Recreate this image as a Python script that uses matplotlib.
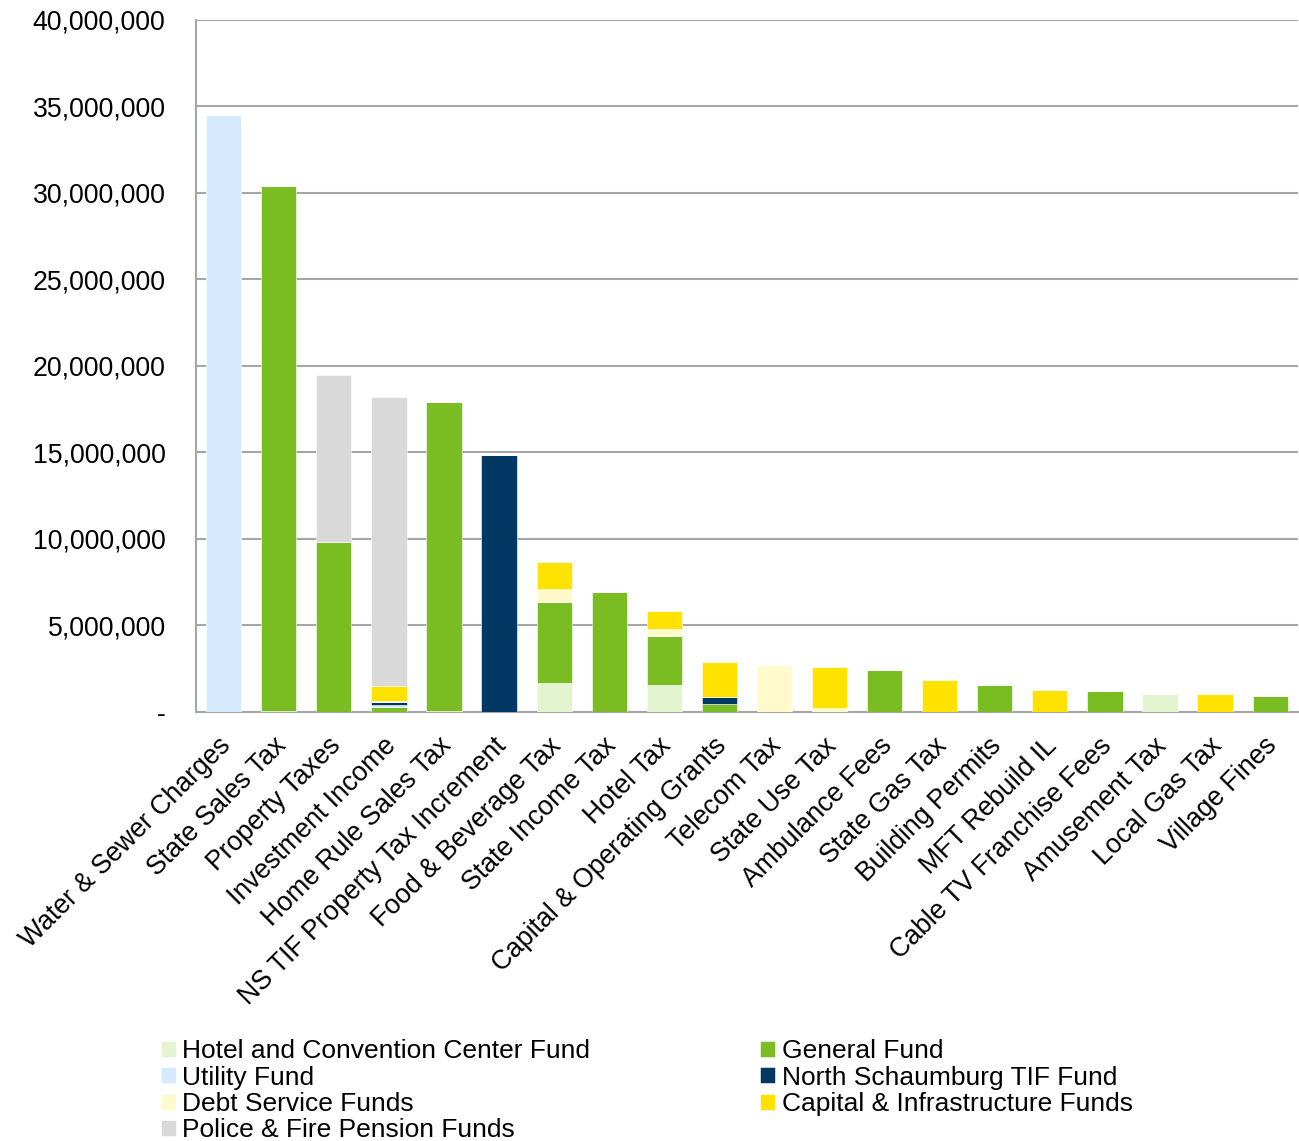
import numpy as np
import matplotlib
matplotlib.use('Agg')

import matplotlib.pyplot as plt
import matplotlib.transforms as mtransforms
from matplotlib.ticker import FuncFormatter

plt.rcParams['font.family'] = ['Liberation Sans', 'DejaVu Sans']

categories = [
    'Water & Sewer Charges', 'State Sales Tax', 'Property Taxes',
    'Investment Income', 'Home Rule Sales Tax', 'NS TIF Property Tax Increment',
    'Food & Beverage Tax', 'State Income Tax', 'Hotel Tax',
    'Capital & Operating Grants', 'Telecom Tax', 'State Use Tax',
    'Ambulance Fees', 'State Gas Tax', 'Building Permits', 'MFT Rebuild IL',
    'Cable TV Franchise Fees', 'Amusement Tax', 'Local Gas Tax', 'Village Fines',
]

# revenue by fund, in dollars (stacked bottom to top in this order)
hotel_fund = [0, 0.08e6, 0, 0, 0.08e6, 0, 1.70e6, 0, 1.58e6, 0,
              0, 0, 0, 0, 0, 0, 0, 1.06e6, 0, 0]
general_fund = [0, 30.30e6, 9.83e6, 0.30e6, 17.82e6, 0, 4.66e6, 6.94e6, 2.83e6, 0.44e6,
                0, 0, 2.41e6, 0, 1.56e6, 0, 1.19e6, 0, 0, 0.94e6]
utility_fund = [34.50e6, 0, 0, 0.13e6, 0, 0, 0, 0, 0, 0,
                0, 0, 0, 0, 0, 0, 0, 0, 0, 0]
ns_tif_fund = [0, 0, 0, 0.16e6, 0, 14.85e6, 0, 0, 0, 0.43e6,
               0, 0, 0, 0, 0, 0, 0, 0, 0, 0]
debt_service = [0, 0, 0, 0.05e6, 0, 0, 0.74e6, 0, 0.41e6, 0,
                2.74e6, 0.25e6, 0, 0, 0, 0, 0, 0, 0, 0]
capital_funds = [0, 0, 0, 0.86e6, 0, 0, 1.56e6, 0, 1.04e6, 2.02e6,
                 0, 2.37e6, 0, 1.85e6, 0, 1.27e6, 0, 0, 1.04e6, 0]
pension_funds = [0, 0, 9.65e6, 16.70e6, 0, 0, 0, 0, 0, 0,
                 0, 0, 0, 0, 0, 0, 0, 0, 0, 0]

series = [
    ('Hotel and Convention Center Fund', hotel_fund, '#e3f5d0'),
    ('General Fund', general_fund, '#7abd22'),
    ('Utility Fund', utility_fund, '#d5eafd'),
    ('North Schaumburg TIF Fund', ns_tif_fund, '#003763'),
    ('Debt Service Funds', debt_service, '#fff9cc'),
    ('Capital & Infrastructure Funds', capital_funds, '#ffe200'),
    ('Police & Fire Pension Funds', pension_funds, '#d9d9d9'),
]
legend_order = [
    'Hotel and Convention Center Fund', 'Utility Fund', 'Debt Service Funds',
    'Police & Fire Pension Funds', 'General Fund', 'North Schaumburg TIF Fund',
    'Capital & Infrastructure Funds',
]

fig = plt.figure(figsize=(12.99, 11.41), dpi=100)
ax = fig.add_axes([0.151, 0.376, 0.848, 0.6065])

x = np.arange(len(categories))
bottom = np.zeros(len(categories))
handles = {}
for name, vals, color in series:
    vals = np.array(vals)
    bars = ax.bar(x, vals, 0.64, bottom=bottom, color=color,
                  edgecolor='white', linewidth=0.4, zorder=3)
    handles[name] = bars
    bottom += vals

ax.set_xlim(-0.5, len(categories) - 0.5)
ax.set_ylim(0, 40e6)
ax.set_yticks(np.arange(0, 40e6 + 1, 5e6))
ax.yaxis.set_major_formatter(FuncFormatter(lambda v, p: '-' if v == 0 else f'{v:,.0f}'))
ax.grid(axis='y', color='#a6a6a6', linewidth=1.5, zorder=0)
ax.tick_params(length=0, labelsize=19.2)
ax.tick_params(axis='y', pad=22)
ax.tick_params(axis='x', pad=15)
for s in ['top', 'right']:
    ax.spines[s].set_visible(False)
for s in ['left', 'bottom']:
    ax.spines[s].set_color('#a6a6a6')
    ax.spines[s].set_linewidth(1.5)

ax.set_xticks(x)
ax.set_xticklabels(categories, rotation=45, ha='right', rotation_mode='anchor')
# nudge the slanted labels a little to the left
shift = mtransforms.ScaledTranslation(-6 / 100, 0, fig.dpi_scale_trans)
for lbl in ax.get_xticklabels():
    lbl.set_transform(lbl.get_transform() + shift)

fig.legend([handles[n] for n in legend_order], legend_order,
           loc='upper left', bbox_to_anchor=(0.124, 0.0892), ncol=2,
           frameon=False, fontsize=19, handlelength=0.55, handleheight=0.55,
           handletextpad=0.25, labelspacing=0.09, columnspacing=6.45,
           borderaxespad=0, borderpad=0)

fig.savefig('out.png', dpi=100)
